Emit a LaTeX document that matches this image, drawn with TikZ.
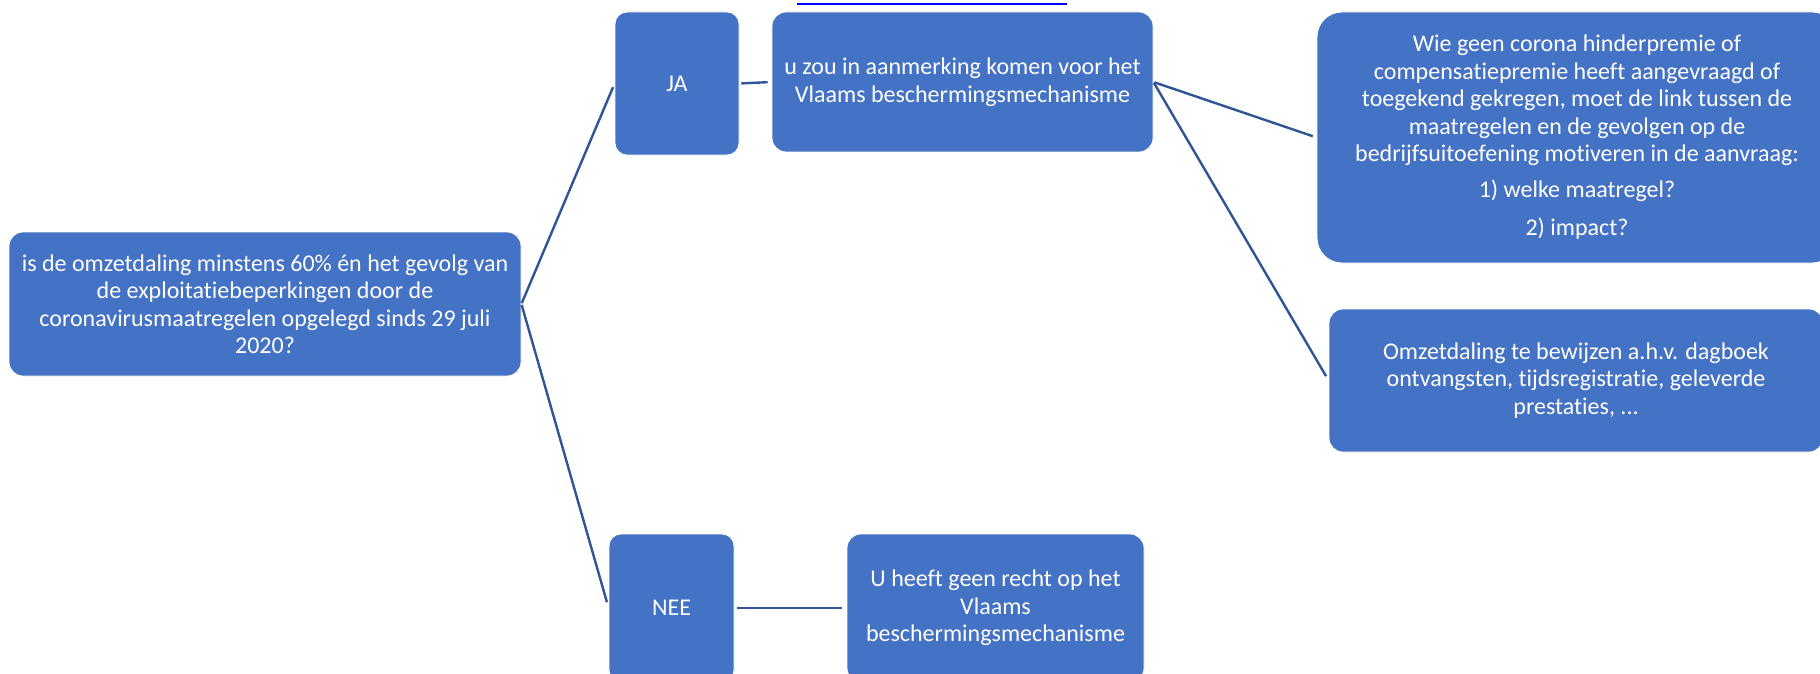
\documentclass[tikz,border=0pt]{standalone}
\usepackage{fontspec}
\setmainfont{Carlito}[Ligatures={NoCommon}]
\definecolor{boxblue}{HTML}{4472C4}
\definecolor{lineblue}{HTML}{2F5597}
\definecolor{linkblue}{HTML}{0000FF}
\tikzset{
  box/.style={fill=boxblue, draw=white, line width=0.8pt, rounded corners=14pt,
    text=white, align=center, font=\fontsize{24}{27.5}\selectfont, inner sep=0pt},
  conn/.style={draw=lineblue, line width=2.4pt},
}
\begin{document}
\begin{tikzpicture}[x=1pt,y=-1pt]
\useasboundingbox (0,0) rectangle (1820,674);
\clip (0,0) rectangle (1820,674);
\fill[white] (0,0) rectangle (1820,674);
% link underline (text cut off at the top edge)
\coordinate (l1) at (797,4);
\coordinate (l2) at (1067,4);
\draw[linkblue, line width=2.6pt] (l1) -- (l2);
% nodes
\node[box, minimum width=512pt, minimum height=144pt] (q) at (265,304)
  {is de omzetdaling minstens 60\% én het gevolg van\\de exploitatiebeperkingen door de\\coronavirusmaatregelen opgelegd sinds 29 juli\\2020?};
\node[box, rounded corners=12pt, minimum width=124pt, minimum height=143pt] (ja) at (677,83.5) {JA};
\node[box, minimum width=381pt, minimum height=140pt] (mid) at (962.5,82)
  {u zou in aanmerking komen voor het\\Vlaams beschermingsmechanisme};
\node[box, rounded corners=25pt, minimum width=520pt, minimum height=251pt] (rt) at (1577,137.5)
  {Wie geen corona hinderpremie of\\compensatiepremie heeft aangevraagd of\\toegekend gekregen, moet de link tussen de\\maatregelen en de gevolgen op de\\bedrijfsuitoefening motiveren in de aanvraag:\\[8pt]1) welke maatregel?\\[11pt]2) impact?};
\node[box, minimum width=494pt, minimum height=143pt] (rb) at (1576,380.5)
  {Omzetdaling te bewijzen a.h.v. dagboek\\ontvangsten, tijdsregistratie, geleverde\\prestaties, ...};
\node[box, rounded corners=12pt, minimum width=125pt, minimum height=148pt] (nee) at (671.5,608) {NEE};
\node[box, minimum width=297pt, minimum height=148pt] (nm) at (995.5,608)
  {U heeft geen recht op het\\Vlaams\\beschermingsmechanisme};
% connectors
\draw[conn, shorten <=1pt, shorten >=4pt] (q.east) -- (ja.west);
\draw[conn, shorten <=1pt, shorten >=6pt] (q.east) -- (nee.west);
\draw[conn, shorten <=2pt, shorten >=4pt] (ja.east) -- (mid.west);
\draw[conn, shorten <=1pt, shorten >=4pt] (mid.east) -- (rt.west);
\draw[conn, shorten <=1pt, shorten >=5pt] (mid.east) -- (rb.west);
\draw[conn, shorten <=3pt, shorten >=5pt] (nee.east) -- (nm.west);
\end{tikzpicture}
\end{document}
